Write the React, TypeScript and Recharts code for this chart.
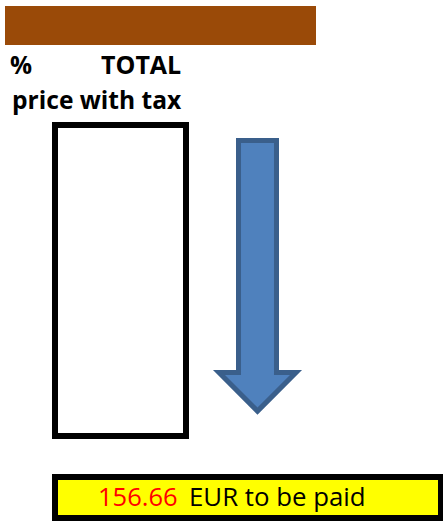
import React from "react";
import { ComposedChart, Bar, XAxis, YAxis } from "recharts";

// ---- data ----
const headerLabels = ["%", "TOTAL"];
const subHeader = "price with tax";
const categories = ["TOTAL", "arrow"];
const rangeLow = [0, 8];
const rangeHigh = [100, 95];
const totalAmount = 156.66;
const amountSuffix = "EUR to be paid";

const data = categories.map((name, i) => ({ name, range: [rangeLow[i], rangeHigh[i]] }));

const FONT = "'Open Sans', 'DejaVu Sans', sans-serif";

const BarShape = (props: any) => {
  const { x, y, width, height, index, payload } = props;
  const isArrow = (payload && payload.name === "arrow") || index === 1;
  if (!isArrow) {
    return <rect x={x} y={y} width={width} height={height} fill="#ffffff" stroke="#000000" strokeWidth={6} />;
  }
  const cx = x + width / 2;
  const sh = width * 0.145;
  const hh = width * 0.294;
  const headH = width * 0.294;
  const b = y + height;
  const d = `M${cx - sh},${y} L${cx + sh},${y} L${cx + sh},${b - headH} L${cx + hh},${b - headH} L${cx},${b} L${cx - hh},${b - headH} L${cx - sh},${b - headH} Z`;
  return <path d={d} fill="#4F81BD" stroke="#3A5F8B" strokeWidth={5} strokeLinejoin="miter" />;
};

export default function App() {
  return (
    <div style={{ position: "absolute", left: 0, top: 0, width: 443, height: 521, background: "#fff" }}>
      <ComposedChart
        width={443}
        height={521}
        data={data}
        margin={{ top: 125, right: 117, bottom: 85, left: 52 }}
      >
        <XAxis dataKey="name" type="category" hide />
        <YAxis type="number" domain={[0, 100]} hide />
        <rect x={5} y={6} width={311} height={39} fill="#9A4A08" />
        <text x={10} y={74} fontFamily={FONT} fontWeight="bold" fontSize={24.5} fill="#000">{headerLabels[0]}</text>
        <text x={101} y={74} fontFamily={FONT} fontWeight="bold" fontSize={25} fill="#000">{headerLabels[1]}</text>
        <text x={12} y={109} fontFamily={FONT} fontWeight="bold" fontSize={24.6} fill="#000">{subHeader}</text>
        <Bar dataKey="range" barSize={131} shape={BarShape} isAnimationActive={false} />
        <rect x={55} y={477} width={386} height={41} fill="#FFFF00" stroke="#000" strokeWidth={6} />
        <text x={98} y={506} fontFamily={FONT} fontSize={25.5} fill="#FF0000">{totalAmount.toFixed(2)}</text>
        <text x={189} y={506} fontFamily={FONT} fontSize={25.8} fill="#000">{amountSuffix}</text>
      </ComposedChart>
    </div>
  );
}
